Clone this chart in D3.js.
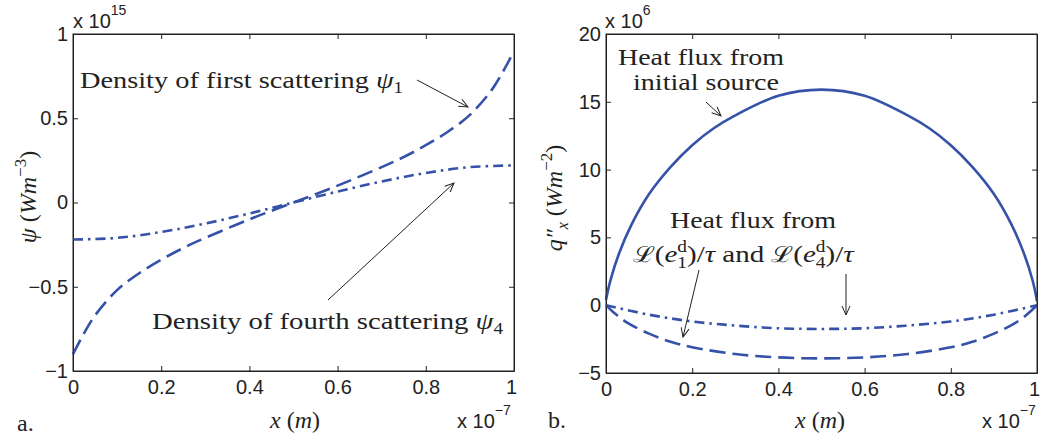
<!DOCTYPE html>
<html>
<head>
<meta charset="utf-8">
<script src="https://cdn.jsdelivr.net/npm/d3@7"></script>
<style>
body { margin:0; background:#fff; }
.tick text { font-family:"Liberation Sans", Arial, sans-serif; font-size:20px; fill:#222; }
.tick line, .domain { stroke:#222; }
.serif { font-family:"Liberation Serif", "Times New Roman", serif; fill:#222; }
.sans { font-family:"Liberation Sans", Arial, sans-serif; fill:#222; }
</style>
</head>
<body>
<svg id="chart" width="1040" height="442"></svg>
<script>
// ---- data ----
var xTicks = [0, 0.2, 0.4, 0.6, 0.8, 1];
var psiTicks = [-1, -0.5, 0, 0.5, 1];
var qTicks = [-5, 0, 5, 10, 15, 20];

// panel a : x in 1e-7 m, psi in 1e15 W/m3
var xPsi1 = [0, 0.02, 0.05, 0.1, 0.15, 0.2, 0.25, 0.3, 0.4, 0.5, 0.6, 0.7, 0.75, 0.8, 0.85, 0.9, 0.95, 0.98, 1];
var psi1  = [-0.9, -0.8, -0.67, -0.52, -0.42, -0.34, -0.27, -0.21, -0.1, 0, 0.1, 0.21, 0.27, 0.34, 0.42, 0.52, 0.67, 0.8, 0.9];
var xPsi4 = [0, 0.1, 0.2, 0.3, 0.4, 0.5, 0.6, 0.7, 0.8, 0.9, 1];
var psi4  = [-0.22, -0.21, -0.175, -0.125, -0.065, 0, 0.065, 0.125, 0.175, 0.21, 0.22];

// panel b : x in 1e-7 m, q in 1e6 W/m2
var xQ0 = [0, 0.01, 0.03, 0.06, 0.1, 0.15, 0.2, 0.25, 0.3, 0.4, 0.5, 0.6, 0.7, 0.75, 0.8, 0.85, 0.9, 0.94, 0.97, 0.99, 1];
var q0  = [0.4, 1.8, 3.8, 6.0, 8.2, 10.2, 11.8, 13.05, 14.0, 15.45, 15.9, 15.45, 14.0, 13.05, 11.8, 10.2, 8.2, 6.0, 3.8, 1.8, 0.3];
var xQ1 = [0, 0.02, 0.05, 0.1, 0.15, 0.2, 0.3, 0.4, 0.5, 0.6, 0.7, 0.8, 0.85, 0.9, 0.95, 0.98, 1];
var q1  = [0, -0.6, -1.3, -2.1, -2.7, -3.1, -3.6, -3.85, -3.92, -3.85, -3.6, -3.1, -2.7, -2.1, -1.3, -0.6, 0];
var xQ4 = [0, 0.1, 0.2, 0.3, 0.4, 0.5, 0.6, 0.7, 0.8, 0.9, 1];
var q4  = [0, -0.7, -1.2, -1.5, -1.7, -1.75, -1.7, -1.5, -1.2, -0.7, 0];

var blue = "#3552a8";
var svg = d3.select("#chart");

var defs = svg.append("defs");
defs.append("marker")
    .attr("id","arr")
    .attr("viewBox","-10 -5 12 10")
    .attr("refX",0).attr("refY",0)
    .attr("markerWidth",12).attr("markerHeight",10)
    .attr("markerUnits","userSpaceOnUse")
    .attr("orient","auto")
    .append("path")
    .attr("d","M-9,-4 L0,0 L-9,4")
    .attr("fill","none").attr("stroke","#222").attr("stroke-width",1);

var fmt = d3.format("~g");

var drawPanel = function(box, yDomain, yTickVals)
{
    var xScale = d3.scaleLinear().domain([0,1]).range([box.left, box.right]);
    var yScale = d3.scaleLinear().domain(yDomain).range([box.bottom, box.top]);

    var gx = svg.append("g")
        .attr("transform","translate(0,"+box.bottom+")")
        .call(d3.axisBottom(xScale).tickValues(xTicks).tickFormat(fmt).tickSizeInner(-5).tickSizeOuter(0).tickPadding(9));
    gx.selectAll(".tick text").filter(function(d){ return d === 1; }).attr("dx", -3);
    svg.append("g")
        .attr("transform","translate(0,"+box.top+")")
        .call(d3.axisTop(xScale).tickValues(xTicks).tickFormat("").tickSizeInner(-5).tickSizeOuter(0));
    svg.append("g")
        .attr("transform","translate("+box.left+",0)")
        .call(d3.axisLeft(yScale).tickValues(yTickVals).tickFormat(fmt).tickSizeInner(-5).tickSizeOuter(0).tickPadding(5));
    svg.append("g")
        .attr("transform","translate("+box.right+",0)")
        .call(d3.axisRight(yScale).tickValues(yTickVals).tickFormat("").tickSizeInner(-5).tickSizeOuter(0));

    return {x:xScale, y:yScale};
}

var drawCurve = function(sc, xs, ys, dash)
{
    var pts = xs.map(function(d,i){ return [d, ys[i]]; });
    var line = d3.line()
        .x(function(d){ return sc.x(d[0]); })
        .y(function(d){ return sc.y(d[1]); })
        .curve(d3.curveCatmullRom);
    svg.append("path")
        .datum(pts)
        .attr("d", line)
        .attr("fill","none")
        .attr("stroke", blue)
        .attr("stroke-width", 2.6)
        .attr("stroke-dasharray", dash);
}

var arrow = function(x1,y1,x2,y2)
{
    svg.append("line")
        .attr("x1",x1).attr("y1",y1).attr("x2",x2).attr("y2",y2)
        .attr("stroke","#222").attr("stroke-width",1)
        .attr("marker-end","url(#arr)");
}

var serifText = function(x, y, size, width)
{
    var t = svg.append("text").attr("class","serif")
        .attr("x",x).attr("y",y).attr("font-size",size);
    if (width) t.attr("textLength",width).attr("lengthAdjust","spacingAndGlyphs");
    return t;
}

var exponent = function(x, y, power)
{
    var t = svg.append("text").attr("class","sans").attr("x",x).attr("y",y).attr("font-size",20);
    t.append("tspan").text("x 10");
    t.append("tspan").attr("dy",-13).attr("font-size",14).text(power);
}

// ---------- panel a ----------
var a = drawPanel({left:73, right:514, top:34, bottom:371}, [-1,1], psiTicks);
drawCurve(a, xPsi1, psi1, "16,7");
drawCurve(a, xPsi4, psi4, "10,5,2.5,5");
svg.append("rect").attr("x",73).attr("y",34).attr("width",441).attr("height",337)
    .attr("fill","none").attr("stroke","#222");

exponent(73, 28, "15");
exponent(457, 428, "\u22127");

var t1 = serifText(80, 88, 24, 323);
t1.append("tspan").text("Density of first scattering ");
t1.append("tspan").attr("font-style","italic").text("\u03c8");
t1.append("tspan").attr("dy",5).attr("font-size",16).text("1");
arrow(417, 80, 468, 107);

var t4 = serifText(152, 329, 24, 351);
t4.append("tspan").text("Density of fourth scattering ");
t4.append("tspan").attr("font-style","italic").text("\u03c8");
t4.append("tspan").attr("dy",5).attr("font-size",16).text("4");
arrow(328, 300, 454, 183);

var xl = serifText(295, 428, 24).attr("text-anchor","middle");
xl.append("tspan").attr("font-style","italic").text("x");
xl.append("tspan").text(" (");
xl.append("tspan").attr("font-style","italic").text("m");
xl.append("tspan").text(")");

serifText(17, 431, 24).text("a.");

var yl = svg.append("text").attr("class","serif").attr("font-size",24)
    .attr("text-anchor","middle")
    .attr("transform","translate(36,197) rotate(-90)");
yl.append("tspan").attr("font-style","italic").text("\u03c8");
yl.append("tspan").text(" (");
yl.append("tspan").attr("font-style","italic").text("Wm");
yl.append("tspan").attr("dy",-10).attr("font-size",17).text("\u22123");
yl.append("tspan").attr("dy",10).text(")");

// ---------- panel b ----------
var b = drawPanel({left:606, right:1037, top:34, bottom:373}, [-5,20], qTicks);
drawCurve(b, xQ0, q0, null);
drawCurve(b, xQ1, q1, "16,7");
drawCurve(b, xQ4, q4, "10,5,2.5,5");
svg.append("rect").attr("x",606).attr("y",34).attr("width",431).attr("height",339)
    .attr("fill","none").attr("stroke","#222");

exponent(605, 28, "6");
exponent(982, 428, "\u22127");

serifText(618, 65, 24, 166).text("Heat flux from");
serifText(633, 90, 24, 146).text("initial source");
arrow(706, 102, 721, 116);

serifText(670, 228, 24, 166).text("Heat flux from");

var lt = serifText(633, 262, 24);
var calL = function(sub)
{
    lt.append("tspan").attr("font-family","'DejaVu Serif', serif").attr("font-size",22).text("\u2112");
    lt.append("tspan").text("(");
    lt.append("tspan").attr("font-style","italic").text("e");
    lt.append("tspan").attr("dy",-10).attr("font-size",16).text("d");
    lt.append("tspan").attr("dx",-8).attr("dy",16).attr("font-size",16).text(sub);
    lt.append("tspan").attr("dy",-6).text(")/");
    lt.append("tspan").attr("font-style","italic").text("\u03c4");
}
calL("1");
lt.append("tspan").text(" and ");
calL("4");
// stretch the math line to its width in the picture
var ltw = lt.node().getComputedTextLength();
lt.attr("transform","translate(633,0) scale("+(240/ltw)+",1) translate(-633,0)");
arrow(699, 270, 683, 337);
arrow(846, 274, 846, 315);

var xr = serifText(820, 428, 24).attr("text-anchor","middle");
xr.append("tspan").attr("font-style","italic").text("x");
xr.append("tspan").text(" (");
xr.append("tspan").attr("font-style","italic").text("m");
xr.append("tspan").text(")");

serifText(548, 428, 24).text("b.");

var yr = svg.append("text").attr("class","serif").attr("font-size",24)
    .attr("text-anchor","middle")
    .attr("transform","translate(562,198) rotate(-90)");
yr.append("tspan").attr("font-style","italic").text("q\u2033");
yr.append("tspan").attr("dy",6).attr("font-size",16).attr("font-style","italic").text("x");
yr.append("tspan").attr("dy",-6).text(" (");
yr.append("tspan").attr("font-style","italic").text("Wm");
yr.append("tspan").attr("dy",-10).attr("font-size",17).text("\u22122");
yr.append("tspan").attr("dy",10).text(")");
</script>
</body>
</html>
